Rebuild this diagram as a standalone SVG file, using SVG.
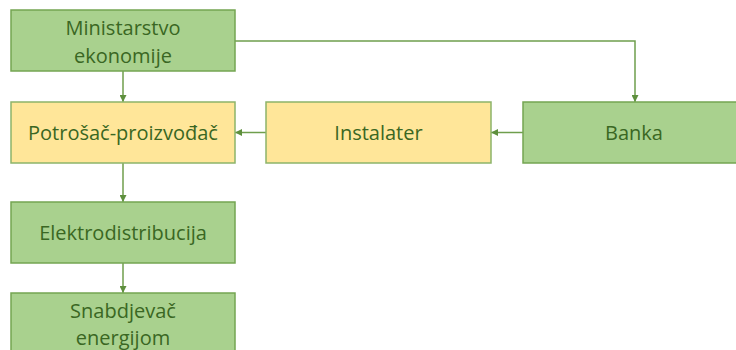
<svg xmlns="http://www.w3.org/2000/svg" width="736" height="350" viewBox="0 0 736 350">
<style>
.g{fill:#A9D18E;stroke:#74A552;stroke-width:1.5}
.y{fill:#FFE699;stroke:#8DB46A;stroke-width:1.5}
.t{font-family:"Open Sans","Liberation Sans",sans-serif;font-size:20px;fill:#3A6723;text-anchor:middle}
.c{fill:none;stroke:#6F9E4D;stroke-width:1.5}
</style>
<defs>
<marker id="a" viewBox="0 0 10 10" refX="10" refY="5" markerWidth="7" markerHeight="7" markerUnits="userSpaceOnUse" orient="auto">
<path d="M0,0 L10,5 L0,10 z" fill="#5E8F3D"/>
</marker>
</defs>
<rect width="736" height="350" fill="#fff"/>
<g id="connectors">
<path class="c" d="M123,71 V102" marker-end="url(#a)"/>
<path class="c" d="M235,41 H635 V102" marker-end="url(#a)"/>
<path class="c" d="M523,132.5 H491" marker-end="url(#a)"/>
<path class="c" d="M266,132.5 H235" marker-end="url(#a)"/>
<path class="c" d="M123,163 V202" marker-end="url(#a)"/>
<path class="c" d="M123,263 V293" marker-end="url(#a)"/>
</g>
<g id="ministarstvo">
<rect class="g" x="11" y="10" width="224" height="61"/>
<text class="t" x="123" y="35">Ministarstvo</text>
<text class="t" x="123" y="63">ekonomije</text>
</g>
<g id="potrosac">
<rect class="y" x="11" y="102" width="224" height="61"/>
<text class="t" x="123" y="140">Potrošač-proizvođač</text>
</g>
<g id="instalater">
<rect class="y" x="266" y="102" width="225" height="61"/>
<text class="t" x="378.5" y="140">Instalater</text>
</g>
<g id="banka">
<rect class="g" x="523" y="102" width="222" height="61"/>
<text class="t" x="634" y="140">Banka</text>
</g>
<g id="elektrodistribucija">
<rect class="g" x="11" y="202" width="224" height="61"/>
<text class="t" x="123" y="240">Elektrodistribucija</text>
</g>
<g id="snabdjevac">
<rect class="g" x="11" y="293" width="224" height="70"/>
<text class="t" x="123" y="318">Snabdjevač</text>
<text class="t" x="123" y="345">energijom</text>
</g>
</svg>
